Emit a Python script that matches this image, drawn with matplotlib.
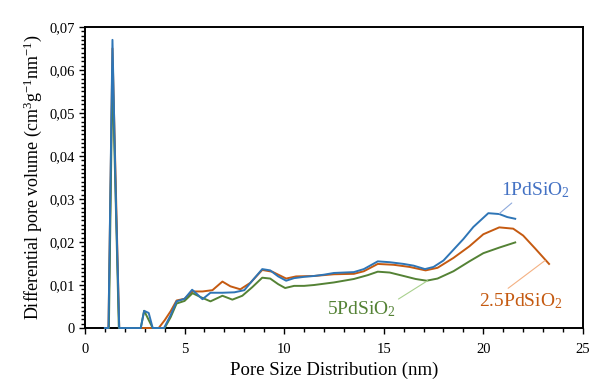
import matplotlib
matplotlib.use('Agg')
import matplotlib.pyplot as plt
from matplotlib.ticker import MultipleLocator, FuncFormatter

plt.rcParams['font.family'] = 'Liberation Serif'
plt.rcParams['mathtext.fontset'] = 'custom'
plt.rcParams['mathtext.rm'] = 'Liberation Serif'
plt.rcParams['mathtext.it'] = 'Liberation Serif'

# 1PdSiO2
x_1 = [1.0, 1.18, 1.38, 1.55, 1.72, 2.8, 2.97, 3.2, 3.4, 3.97, 4.3, 4.6, 5.0, 5.38, 5.6, 5.9,
       6.3, 6.9, 7.5, 8.0, 8.4, 8.9, 9.3, 9.7, 10.1, 10.5, 11.0, 11.5, 12.0, 12.5, 13.0, 13.5,
       14.0, 14.7, 15.3, 16.0, 16.5, 17.07, 17.5, 18.0, 18.5, 19.0, 19.5, 20.25, 20.8, 21.2, 21.6]
y_1 = [0, 0, 0.067, 0.03, 0, 0, 0.004, 0.0035, 0, 0, 0.003, 0.0062, 0.0068, 0.0089, 0.008, 0.0067,
       0.0082, 0.0082, 0.0083, 0.0088, 0.011, 0.0137, 0.0134, 0.012, 0.011, 0.0116, 0.0119, 0.0121,
       0.0124, 0.0128, 0.0129, 0.0130, 0.0137, 0.0155, 0.0153, 0.0149, 0.0145, 0.0137, 0.0142,
       0.0157, 0.0182, 0.0207, 0.0235, 0.0267, 0.0265, 0.0258, 0.0254]

# 2.5PdSiO2
x_25 = [1.0, 1.18, 1.38, 1.72, 3.7, 4.0, 4.3, 4.6, 5.0, 5.4, 5.9, 6.4, 6.9, 7.3, 7.8, 8.3, 8.9,
        9.4, 10.1, 10.6, 11.5, 12.5, 13.5, 14.0, 14.7, 15.5, 16.3, 17.1, 17.7, 18.5, 19.3, 20.0,
        20.8, 21.5, 22.0, 22.6, 23.3]
y_25 = [0, 0, 0.065, 0, 0, 0.0018, 0.0039, 0.0064, 0.0068, 0.0085, 0.0085, 0.0088, 0.0108, 0.0097,
        0.009, 0.0105, 0.0135, 0.0131, 0.0115, 0.0120, 0.0121, 0.0125, 0.0126, 0.0132, 0.0149,
        0.0147, 0.0142, 0.0134, 0.0140, 0.0163, 0.019, 0.0218, 0.0234, 0.0231, 0.0215, 0.0185, 0.0149]

# 5PdSiO2
x_5 = [1.05, 1.2, 1.38, 1.7, 2.8, 2.97, 3.4, 4.0, 4.3, 4.6, 5.0, 5.4, 5.8, 6.3, 6.9, 7.4, 7.9,
       8.4, 8.9, 9.3, 9.7, 10.05, 10.5, 11.0, 11.5, 12.5, 13.5, 14.2, 14.7, 15.3, 16.0, 16.6,
       17.15, 17.7, 18.5, 19.3, 20.0, 20.8, 21.6]
y_5 = [0, 0, 0.060, 0, 0, 0.004, 0, 0, 0.0025, 0.0057, 0.0063, 0.0081, 0.0072, 0.0062, 0.0075,
       0.0066, 0.0075, 0.0095, 0.0117, 0.0115, 0.0102, 0.0093, 0.0098, 0.0098, 0.0100, 0.0106,
       0.0114, 0.0123, 0.0131, 0.0129, 0.0121, 0.0114, 0.0110, 0.0115, 0.0132, 0.0155, 0.0174,
       0.0187, 0.0199]

blue = '#2E75B6'
orange = '#C55A11'
green = '#548235'

fig = plt.figure(figsize=(5.93, 3.85), dpi=100)
ax = fig.add_axes([0.1433, 0.148, 0.8397, 0.782])

ax.plot(x_25, y_25, color=orange, lw=1.4, clip_on=False, zorder=3)
ax.plot(x_5, y_5, color=green, lw=1.4, clip_on=False, zorder=3)
ax.plot(x_1, y_1, color=blue, lw=1.4, clip_on=False, zorder=3)

ax.set_xlim(0, 25)
ax.set_ylim(0, 0.07)
ax.xaxis.set_major_locator(MultipleLocator(5))
ax.xaxis.set_minor_locator(MultipleLocator(1))
ax.yaxis.set_major_locator(MultipleLocator(0.01))
ax.yaxis.set_minor_locator(MultipleLocator(0.001))
ax.yaxis.set_major_formatter(FuncFormatter(
    lambda v, p: '0' if abs(v) < 1e-9 else ('%.2f' % v).replace('.', ',')))
ax.tick_params(which='major', direction='out', length=4, width=1, labelsize=10.5, color='black')
ax.tick_params(which='minor', direction='out', length=3, width=1, color='black')
ax.tick_params(axis='x', pad=7)
for s in ax.spines.values():
    s.set_linewidth(1.4)
    s.set_color('black')

ax.set_xlabel('Pore Size Distribution (nm)', fontsize=13.5)
ax.set_ylabel('Differential pore volume (cm$^{3}$g$^{-1}$nm$^{-1}$)', fontsize=13)

ax.annotate('1PdSiO$_2$', xy=(20.8, 0.0266), xytext=(20.9, 0.0320), color='#4472C4',
            fontsize=14, ha='left', va='center',
            arrowprops=dict(arrowstyle='-', color='#8FAADC', lw=0.8, shrinkA=0, shrinkB=0,
                            relpos=(0.2, 0.0)))
ax.annotate('2.5PdSiO$_2$', xy=(23.1, 0.0157), xytext=(19.8, 0.0063), color=orange,
            fontsize=14, ha='left', va='center',
            arrowprops=dict(arrowstyle='-', color='#F4B183', lw=0.8, shrinkA=0, shrinkB=0,
                            relpos=(0.3, 1.0)))
ax.annotate('5PdSiO$_2$', xy=(17.2, 0.011), xytext=(15.6, 0.0045), color=green,
            fontsize=14, ha='right', va='center',
            arrowprops=dict(arrowstyle='-', color='#A9D18E', lw=0.8, shrinkA=0, shrinkB=0,
                            relpos=(1.0, 0.9)))

fig.savefig('out.png', dpi=100)
